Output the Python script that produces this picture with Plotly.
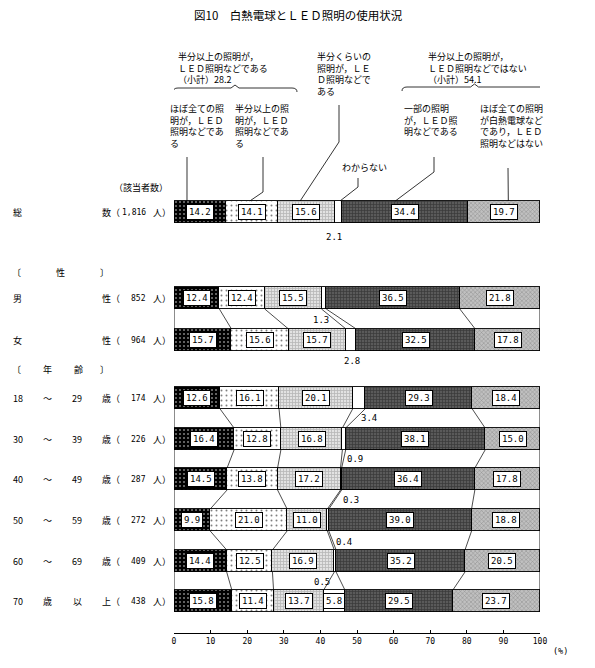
import plotly.graph_objects as go

# --- data ---
categories = [
    "ほぼ全ての照明が，ＬＥＤ照明などである",
    "半分以上の照明が，ＬＥＤ照明などである",
    "半分くらいの照明が，ＬＥＤ照明などである",
    "わからない",
    "一部の照明が，ＬＥＤ照明などである",
    "ほぼ全ての照明が白熱電球などであり，ＬＥＤ照明などはない",
]
rows = ["総数", "男性", "女性", "18～29歳", "30～39歳", "40～49歳",
        "50～59歳", "60～69歳", "70歳以上"]
counts = ["1,816", "852", "964", "174", "226", "287", "272", "409", "438"]

all_led = [14.2, 12.4, 15.7, 12.6, 16.4, 14.5, 9.9, 14.4, 15.8]
half_plus_led = [14.1, 12.4, 15.6, 16.1, 12.8, 13.8, 21.0, 12.5, 11.4]
half_led = [15.6, 15.5, 15.7, 20.1, 16.8, 17.2, 11.0, 16.9, 13.7]
unknown = [2.1, 1.3, 2.8, 3.4, 0.9, 0.3, 0.4, 0.5, 5.8]
some_led = [34.4, 36.5, 32.5, 29.3, 38.1, 36.4, 39.0, 35.2, 29.5]
no_led = [19.7, 21.8, 17.8, 18.4, 15.0, 17.8, 18.8, 20.5, 23.7]

subtotal_led = 28.2
subtotal_not_led = 54.1
tick_vals = [0, 10, 20, 30, 40, 50, 60, 70, 80, 90, 100]

series = [all_led, half_plus_led, half_led, unknown, some_led, no_led]

# --- layout helpers: everything below is in page pixels (page has an 8px body margin) ---
PAGE = 8
W, H = 595 - 2 * PAGE, 668 - 2 * PAGE
X0, X1 = 174, 540          # page px of 0% and 100%
YT, YB = PAGE, 633         # page px of plot top / bottom (x axis line)
PX = (X1 - X0) / 100.0


def xd(px):
    return (px - X0) / PX


def xp(px):
    return (px - X0) / (X1 - X0)


def yp(py):
    return (YB - py) / (YB - YT)


row_y = [212, 298, 340, 398, 439, 479, 520, 561, 601]
groups = [[0], [1, 2], [3, 4, 5, 6, 7, 8]]
BW = 22

label_parts = [["総", "", "", "数"], ["男", "", "", "性"], ["女", "", "", "性"],
               ["18", "～", "29", "歳"], ["30", "～", "39", "歳"],
               ["40", "～", "49", "歳"], ["50", "～", "59", "歳"],
               ["60", "～", "69", "歳"], ["70", "歳", "以", "上"]]

patterns = [
    dict(bg="#000000", fg="#ffffff", shape=".", size=4, sol=0.2),
    dict(bg="#ffffff", fg="#000000", shape=".", size=5, sol=0.12),
    dict(bg="#e2e2e2", fg="#8a8a8a", shape="+", size=3, sol=0.45),
    dict(bg="#ffffff", fg="#ffffff", shape="", size=4, sol=0.3),
    dict(bg="#5a5a5a", fg="#151515", shape="+", size=3, sol=0.4),
    dict(bg="#c0c0c0", fg="#555555", shape="x", size=3, sol=0.3),
]

# small-value label offsets (px) for わからない
small_off = [(-5, 25), (-3, 22), (1, 21), (10, 20), (11, 20), (10, 21),
             (16, 22), (-13, 21), (0, 0)]

JP = "Noto Sans CJK JP"
NUM = "DejaVu Sans Mono"

fig = go.Figure()
for k, vals in enumerate(series):
    p = patterns[k]
    fig.add_trace(go.Bar(
        y=row_y, x=vals, orientation="h", width=BW, name=categories[k],
        marker=dict(color=p["bg"], line=dict(color="black", width=0.9),
                    pattern=dict(shape=p["shape"], bgcolor=p["bg"], fgcolor=p["fg"],
                                 size=p["size"], solidity=p["sol"])),
        showlegend=False, hoverinfo="x+name",
    ))

# cumulative boundaries
cum = []
for i in range(len(rows)):
    c = [0.0]
    for vals in series:
        c.append(c[-1] + vals[i])
    cum.append(c)

shapes = []
ann = []


def text_px(px, py, t, size=9, family=JP, **kw):
    d = dict(x=xp(px), y=yp(py), xref="paper", yref="paper", text=t, showarrow=False,
             xanchor="center", yanchor="middle",
             font=dict(family=family, size=size, color="black"))
    d.update(kw)
    ann.append(d)


# connectors inside groups
for g in groups:
    for a, b in zip(g[:-1], g[1:]):
        ya, yb = row_y[a] + BW / 2, row_y[b] - BW / 2
        for xe in (0, 100):
            shapes.append(dict(type="line", x0=xe, x1=xe, y0=ya, y1=yb,
                               line=dict(color="black", width=0.9)))
        for k in range(1, 6):
            shapes.append(dict(type="line", x0=cum[a][k], x1=cum[b][k], y0=ya, y1=yb,
                               line=dict(color="black", width=0.7)))

# value labels
for i in range(len(rows)):
    for k, vals in enumerate(series):
        v = vals[i]
        mid = (cum[i][k] + cum[i][k + 1]) / 2
        if v >= 5:
            ann.append(dict(x=mid, y=row_y[i], text=f"{v:.1f}", showarrow=False,
                            xanchor="center", yanchor="middle",
                            font=dict(family=NUM, size=9, color="black"),
                            bgcolor="white", bordercolor="black", borderwidth=1,
                            borderpad=2))
        else:
            dx, dy = small_off[i]
            ann.append(dict(x=mid + dx / PX, y=row_y[i] + dy, text=f"{v:.1f}",
                            showarrow=False, xanchor="center", yanchor="middle",
                            font=dict(family=NUM, size=9, color="black")))

# row labels
col_x = [11, 47, 77]
for i in range(len(rows)):
    parts = label_parts[i]
    for j, t in enumerate(parts[:3]):
        if t:
            text_px(col_x[j], row_y[i], t, xanchor="left" if j == 0 else "center")
    text_px(100, row_y[i], parts[3] + "（", xanchor="left")
    text_px(148, row_y[i], counts[i], size=8, family=NUM, xanchor="right")
    text_px(151, row_y[i], "人）", xanchor="left")

# group headers
for t, px in [("〔", 16), ("性", 60), ("〕", 104)]:
    text_px(px, 272, t)
for t, px in [("〔", 16), ("年", 47), ("齢", 78), ("〕", 104)]:
    text_px(px, 370, t)
text_px(141, 187, "（該当者数）")

# header texts
head = [
    (176, 48, f"半分以上の照明が，<br>ＬＥＤ照明などである<br>（小計）{subtotal_led}"),
    (426, 48, f"半分以上の照明が，<br>ＬＥＤ照明などではない<br>（小計）{subtotal_not_led}"),
    (315, 48, "半分くらいの<br>照明が，ＬＥ<br>Ｄ照明などで<br>ある"),
    (168, 100, "ほぼ全ての照<br>明が，ＬＥＤ<br>照明などであ<br>る"),
    (233, 100, "半分以上の照<br>明が，ＬＥＤ<br>照明などであ<br>る"),
    (402, 100, "一部の照明<br>が，ＬＥＤ照<br>明などである"),
    (478, 100, "ほぼ全ての照明<br>が白熱電球など<br>であり，ＬＥＤ<br>照明などはない"),
    (340, 159, "わからない"),
]
for px, py, t in head:
    text_px(px, py, t, xanchor="left", yanchor="top", align="left")

# leaders from headers to the total bar
leaders = [  # (top x, top y, bend x, bend y, offset from segment centre at bar)
    (187, 157, 187, 157, -13),
    (263, 157, 263, 192, -2),
    (339, 105, 339, 142, -6),
    (358, 178, 358, 187, 1.5),
    (434, 157, 434, 172, -10),
    (508, 168, 508, 168, 4),
]
ytop = row_y[0] - BW / 2
for k, (tx, ty, bx, by, off) in enumerate(leaders):
    mid = (cum[0][k] + cum[0][k + 1]) / 2 + off / PX
    path = f"M {xd(tx)},{ty} L {xd(bx)},{by} L {mid},{ytop}"
    shapes.append(dict(type="path", path=path, line=dict(color="black", width=0.8)))

# braces
for x0p, x1p, yb in [(173, 297, 88), (402, 547, 87)]:
    xm = (x0p + x1p) / 2
    path = (f"M {xd(x0p)},{yb + 4} Q {xd(x0p)},{yb} {xd(x0p + 5)},{yb} "
            f"L {xd(xm - 4)},{yb} L {xd(xm)},{yb - 3} L {xd(xm + 4)},{yb} "
            f"L {xd(x1p - 5)},{yb} Q {xd(x1p)},{yb} {xd(x1p)},{yb + 4}")
    shapes.append(dict(type="path", path=path, line=dict(color="black", width=0.8)))

# title and unit
text_px(298, 15, "図10　白熱電球とＬＥＤ照明の使用状況", size=11.5)
text_px(551, 651, "(%)", size=8.5, family=NUM, xanchor="left")

fig.update_layout(
    width=W, height=H, barmode="stack", bargap=0,
    margin=dict(l=X0 - PAGE, r=W + PAGE - X1, t=YT - PAGE, b=H + PAGE - YB),
    paper_bgcolor="white", plot_bgcolor="white",
    xaxis=dict(range=[0, 100], tickvals=tick_vals, showgrid=False, zeroline=False,
               showline=True, linecolor="black", linewidth=1, ticks="inside",
               ticklen=3, tickcolor="black",
               tickfont=dict(family=NUM, size=8, color="black")),
    yaxis=dict(range=[YB, YT], visible=False),
    shapes=shapes, annotations=ann,
)

fig.write_html("out.html")
